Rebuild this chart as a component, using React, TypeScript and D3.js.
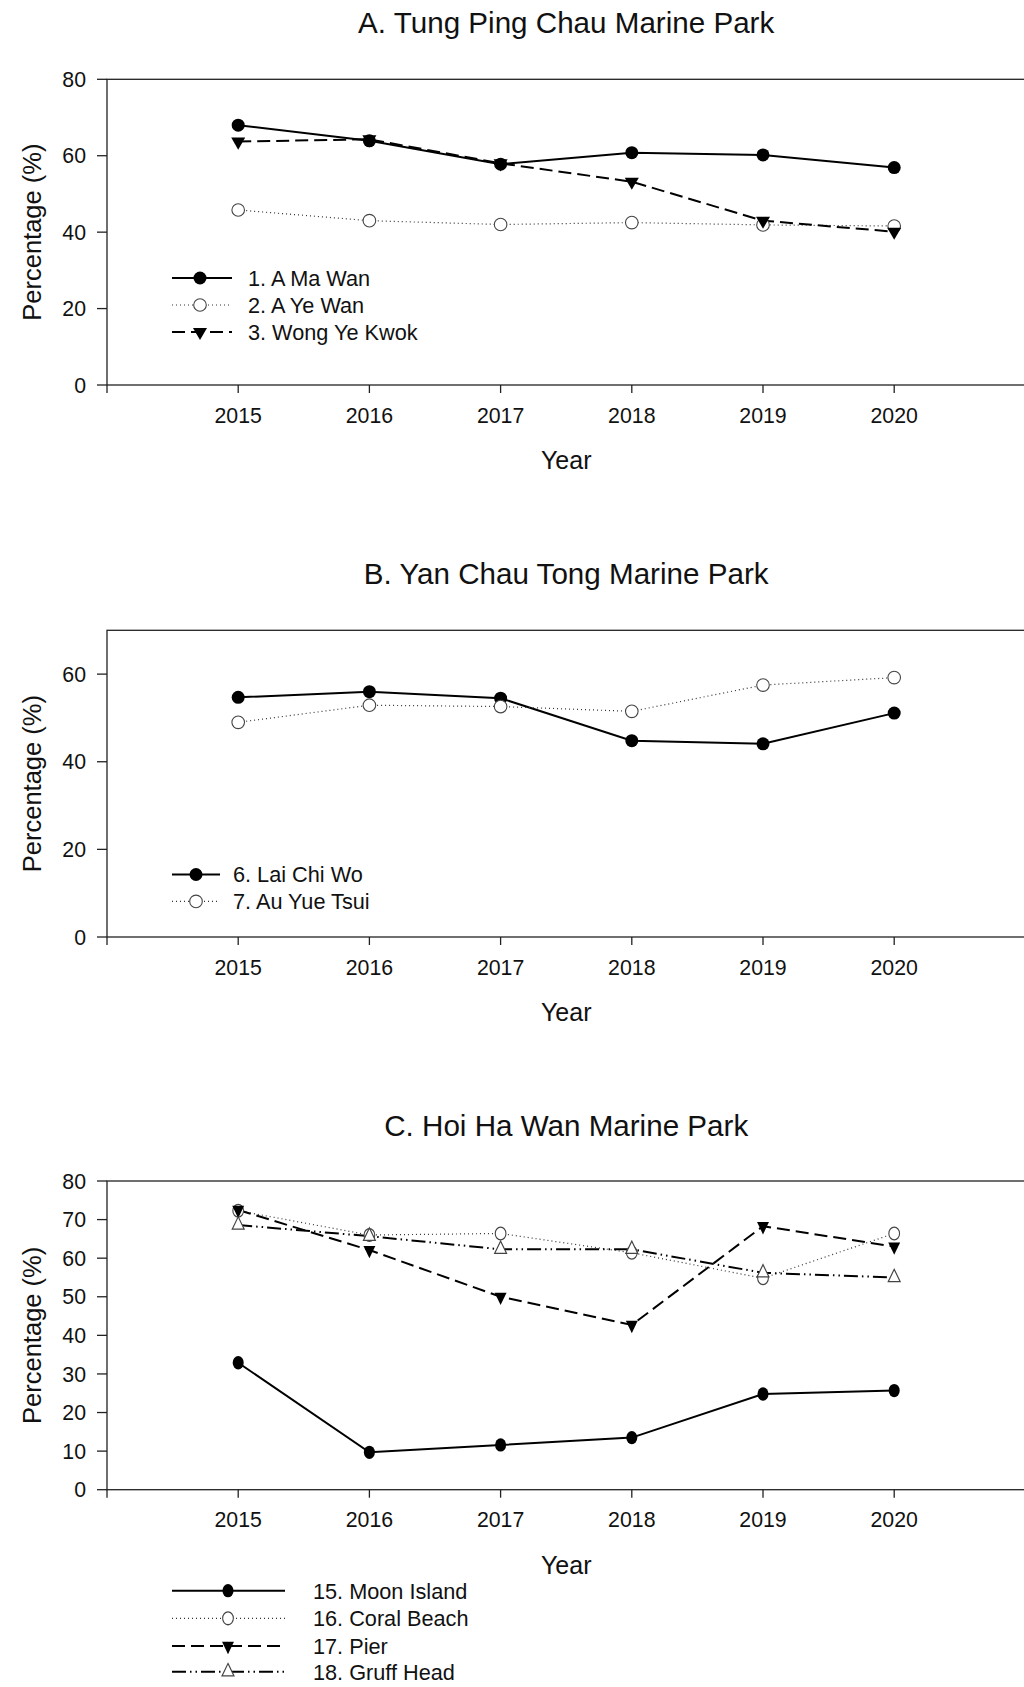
import { scaleLinear, line, symbol, symbolTriangle } from 'd3';

const FONT = '"Liberation Sans", Arial, Helvetica, sans-serif';

// years on the x axis
const years = [2015, 2016, 2017, 2018, 2019, 2020];

// A. Tung Ping Chau
const aMaWan = [68.0, 63.9, 57.8, 60.8, 60.2, 56.9];
const aYeWan = [45.8, 43.0, 42.0, 42.5, 41.9, 41.6];
const wongYeKwok = [63.7, 64.3, 58.0, 53.2, 43.0, 40.1];

// B. Yan Chau Tong
const laiChiWo = [54.7, 56.0, 54.5, 44.8, 44.1, 51.1];
const auYueTsui = [49.0, 52.9, 52.6, 51.5, 57.5, 59.2];

// C. Hoi Ha Wan
const moonIsland = [32.9, 9.7, 11.6, 13.5, 24.8, 25.7];
const coralBeach = [72.3, 66.0, 66.4, 61.4, 54.8, 66.4];
const pier = [72.5, 62.1, 50.0, 42.7, 68.3, 63.0];
const gruffHead = [68.6, 65.7, 62.3, 62.3, 56.2, 55.0];

const yTicksA = [0, 20, 40, 60, 80];
const yTicksB = [0, 20, 40, 60];
const yTicksC = [0, 10, 20, 30, 40, 50, 60, 70, 80];

type Mark = 'dot' | 'ring' | 'down' | 'up';
type LineStyle = { dash?: string; width: number; mark: Mark; color: string };

const solid: LineStyle = { width: 2, mark: 'dot', color: '#000' };
const dotted: LineStyle = { dash: '1 3', width: 1.2, mark: 'ring', color: '#333' };
const dashed: LineStyle = { dash: '13 6', width: 2, mark: 'down', color: '#000' };
const dashDotDot: LineStyle = { dash: '14 4 1.5 4 1.5 4', width: 2, mark: 'up', color: '#000' };

type Series = { name: string; values: number[]; style: LineStyle };

type PanelProps = {
  title: string;
  titleY: number;
  top: number;
  bottom: number;
  yMax: number;
  yTicks: number[];
  series: Series[];
  legend: { x1: number; x2: number; mx: number; tx: number; ys: number[] };
  ms: number; // marker scale
  sy?: number; // vertical stretch of markers
};

const xScale = scaleLinear().domain([2014, 2021]).range([107, 1025.4]);
const allTicks = [2014, ...years, 2021];

const Marker = ({ x, y, mark, ms, sy = 1 }: { x: number; y: number; mark: Mark; ms: number; sy?: number }) => {
  const t = `translate(${x},${y}) scale(${ms},${ms * sy})`;
  if (mark === 'dot') return <circle r={6.5} transform={t} fill="#000" />;
  if (mark === 'ring')
    return <circle r={6.3} transform={t} fill="#fff" stroke="#444" strokeWidth={1.1 / ms} />;
  const tri = symbol(symbolTriangle, 85)() as string;
  if (mark === 'down') return <path d={tri} transform={`${t} rotate(180)`} fill="#000" />;
  return <path d={tri} transform={t} fill="#fff" stroke="#444" strokeWidth={1.1 / ms} />;
};

const Panel = ({ title, titleY, top, bottom, yMax, yTicks, series, legend, ms, sy = 1 }: PanelProps) => {
  const yScale = scaleLinear().domain([0, yMax]).range([bottom, top]);
  const path = line<number>()
    .x((_, i) => xScale(years[i]))
    .y((d) => yScale(d));
  const [x0, x1] = xScale.range();
  const mid = (top + bottom) / 2;

  return (
    <g fontFamily={FONT} fill="#111">
      <text x={(x0 + x1) / 2} y={titleY} textAnchor="middle" fontSize={29.6}>
        {title}
      </text>

      {/* frame */}
      <rect x={x0} y={top} width={x1 - x0} height={bottom - top} fill="none" stroke="#222" strokeWidth={1.3} />

      {/* y axis */}
      {yTicks.map((t) => (
        <g key={t}>
          <line x1={x0 - 10} x2={x0} y1={yScale(t)} y2={yScale(t)} stroke="#222" strokeWidth={1.3} />
          <text x={x0 - 21} y={yScale(t)} dy="0.36em" textAnchor="end" fontSize={21.3}>
            {t}
          </text>
        </g>
      ))}
      <text
        transform={`translate(32,${mid}) rotate(-90)`}
        dy="0.35em"
        textAnchor="middle"
        fontSize={25.5}
      >
        Percentage (%)
      </text>

      {/* x axis */}
      {allTicks.map((t) => (
        <line key={t} x1={xScale(t)} x2={xScale(t)} y1={bottom} y2={bottom + 8} stroke="#222" strokeWidth={1.3} />
      ))}
      {years.map((t) => (
        <text key={t} x={xScale(t)} y={bottom + 37.7} textAnchor="middle" fontSize={21.3}>
          {t}
        </text>
      ))}
      <text x={(x0 + x1) / 2} y={bottom + 84} textAnchor="middle" fontSize={25}>
        Year
      </text>

      {/* lines */}
      {series.map((s) => (
        <path
          key={s.name}
          d={path(s.values) as string}
          fill="none"
          stroke={s.style.color}
          strokeWidth={s.style.width}
          strokeDasharray={s.style.dash}
        />
      ))}
      {series.map((s) =>
        s.values.map((v, i) => (
          <Marker key={s.name + i} x={xScale(years[i])} y={yScale(v)} mark={s.style.mark} ms={ms} sy={sy} />
        ))
      )}

      {/* legend */}
      {series.map((s, i) => {
        const y = legend.ys[i];
        return (
          <g key={s.name}>
            <line
              x1={legend.x1}
              x2={legend.x2}
              y1={y}
              y2={y}
              stroke={s.style.color}
              strokeWidth={s.style.width}
              strokeDasharray={s.style.dash}
            />
            <Marker x={legend.mx} y={y} mark={s.style.mark} ms={ms} sy={sy} />
            <text x={legend.tx} y={y} dy="0.36em" fontSize={21.7}>
              {s.name}
            </text>
          </g>
        );
      })}
    </g>
  );
};

export default function App() {
  return (
    <svg
      width={1024}
      height={1687}
      style={{ position: 'absolute', left: 0, top: 0, background: '#fff' }}
    >
      <Panel
        title="A. Tung Ping Chau Marine Park"
        titleY={33}
        top={79.3}
        bottom={385}
        yMax={80}
        yTicks={yTicksA}
        ms={1}
        series={[
          { name: '1. A Ma Wan', values: aMaWan, style: solid },
          { name: '2. A Ye Wan', values: aYeWan, style: dotted },
          { name: '3. Wong Ye Kwok', values: wongYeKwok, style: dashed },
        ]}
        legend={{ x1: 172, x2: 232, mx: 200, tx: 248, ys: [278, 305, 332] }}
      />
      <Panel
        title="B. Yan Chau Tong Marine Park"
        titleY={584}
        top={630.3}
        bottom={937}
        yMax={70}
        yTicks={yTicksB}
        ms={1}
        series={[
          { name: '6. Lai Chi Wo', values: laiChiWo, style: solid },
          { name: '7. Au Yue Tsui', values: auYueTsui, style: dotted },
        ]}
        legend={{ x1: 172, x2: 220, mx: 196, tx: 233, ys: [874.5, 901.4] }}
      />
      <Panel
        title="C. Hoi Ha Wan Marine Park"
        titleY={1136}
        top={1181}
        bottom={1489.7}
        yMax={80}
        yTicks={yTicksC}
        ms={0.85}
        sy={1.2}
        series={[
          { name: '15. Moon Island', values: moonIsland, style: solid },
          { name: '16. Coral Beach', values: coralBeach, style: dotted },
          { name: '17. Pier', values: pier, style: dashed },
          { name: '18. Gruff Head', values: gruffHead, style: dashDotDot },
        ]}
        legend={{ x1: 172, x2: 285, mx: 228, tx: 313, ys: [1590.7, 1618.3, 1646, 1671.7] }}
      />
    </svg>
  );
}
